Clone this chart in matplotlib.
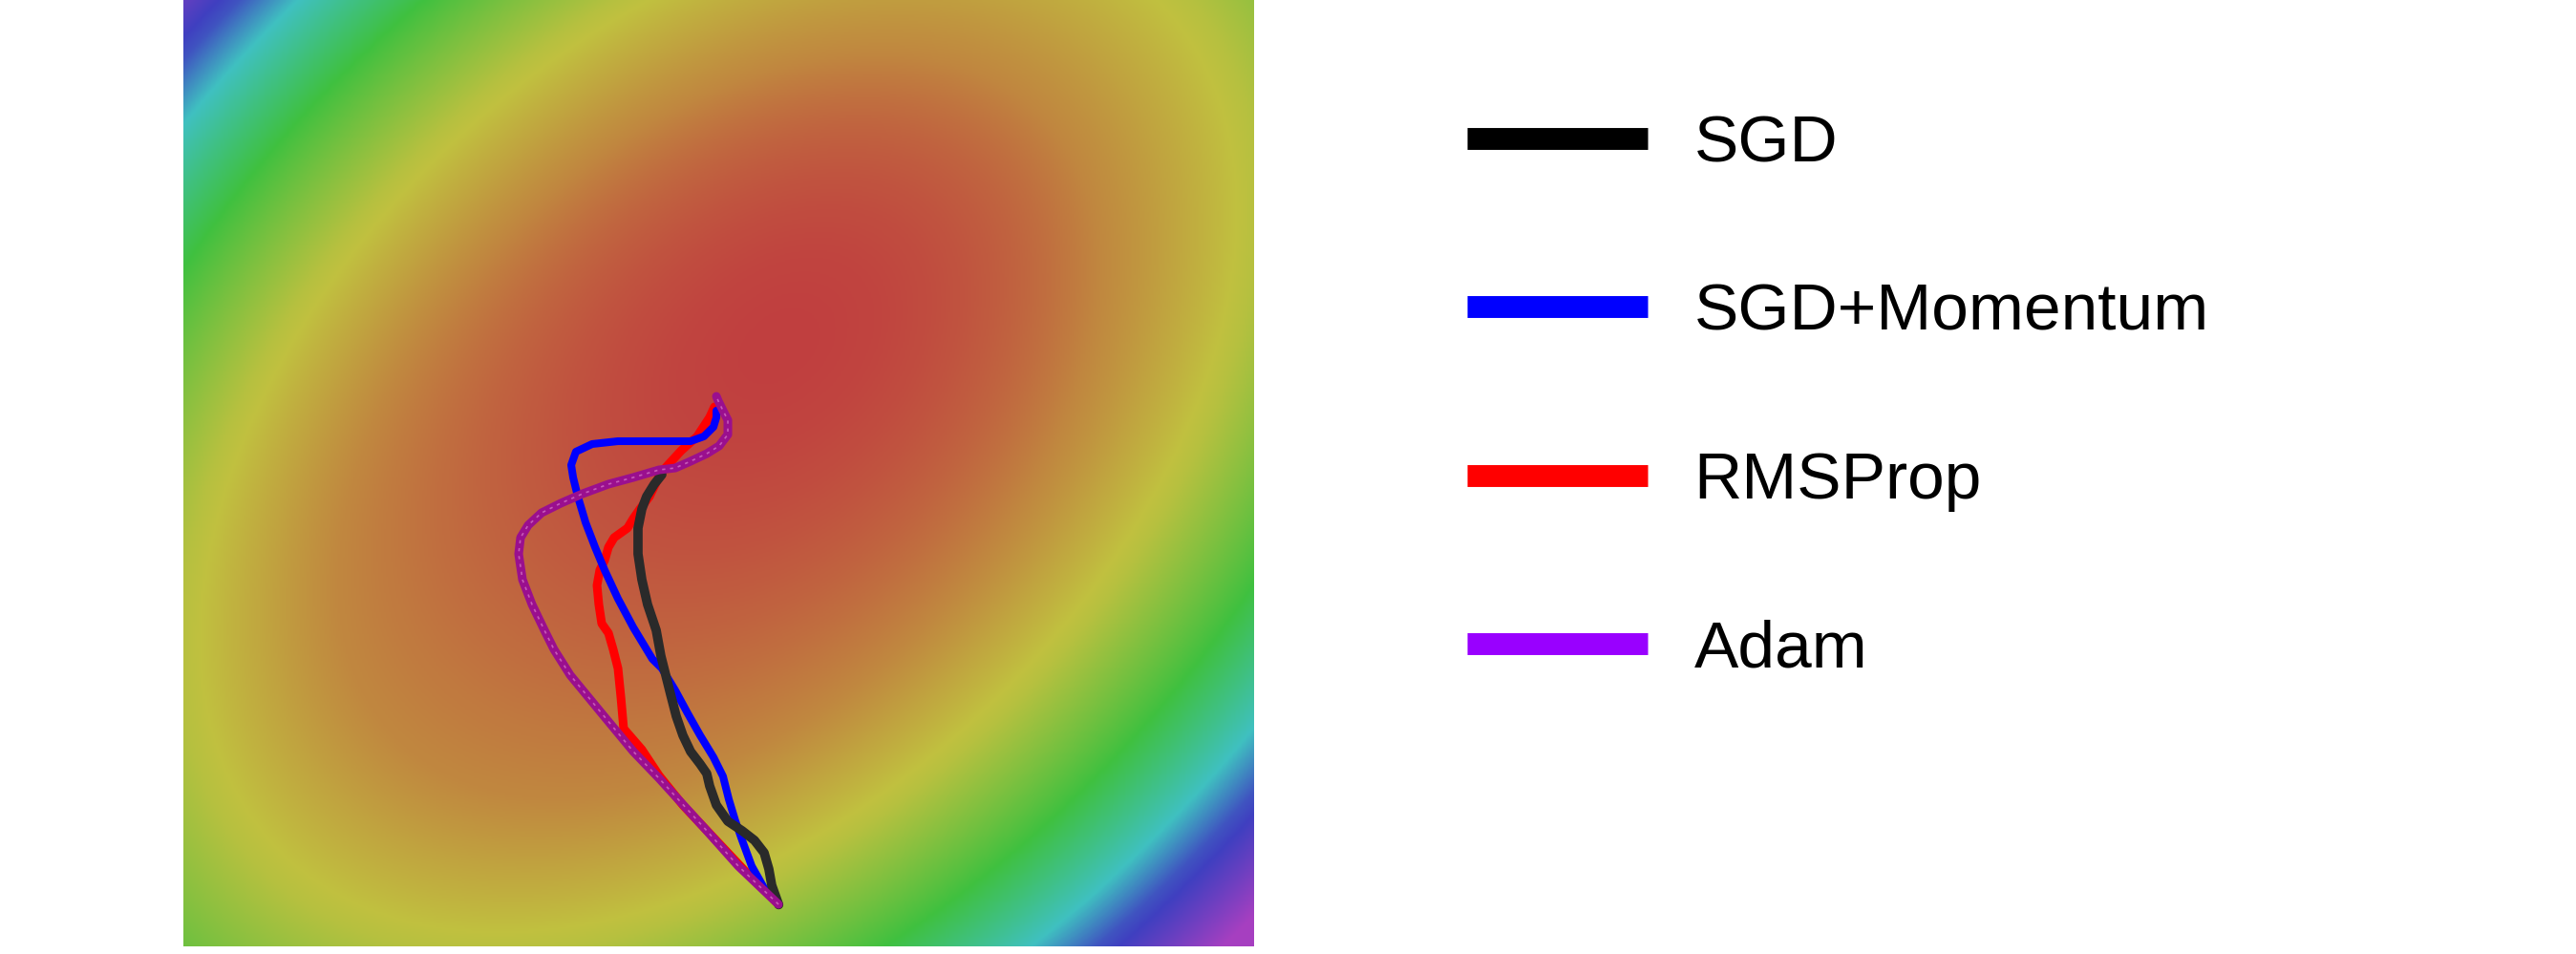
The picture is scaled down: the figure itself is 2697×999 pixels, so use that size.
import numpy as np
import matplotlib
matplotlib.use("Agg")
import matplotlib.pyplot as plt
from matplotlib.colors import ListedColormap, Normalize, hsv_to_rgb
from matplotlib.lines import Line2D

plt.rcParams['font.family'] = ['Liberation Sans', 'DejaVu Sans']

# ---- data: optimizer trajectories (parameter space, 0..10 on each axis) ----
labels = ["SGD", "SGD+Momentum", "RMSProp", "Adam"]
legend_colors = ["#000000", "#0000ff", "#ff0000", "#9900ff"]

sgd_x = [5.56, 5.495, 5.468, 5.424, 5.334, 5.219, 5.085, 4.978, 4.915, 4.888, 4.826,
         4.737, 4.665, 4.603, 4.550, 4.505, 4.460, 4.416, 4.335, 4.282, 4.246, 4.246,
         4.282, 4.326, 4.398, 4.469]
sgd_y = [0.44, 0.646, 0.817, 0.989, 1.120, 1.221, 1.322, 1.493, 1.695, 1.826, 1.927,
         2.059, 2.230, 2.432, 2.664, 2.866, 3.068, 3.340, 3.613, 3.875, 4.147, 4.420,
         4.622, 4.753, 4.884, 4.985]

mom_x = [5.558, 5.424, 5.308, 5.219, 5.156, 5.094, 5.040, 4.951, 4.826, 4.710, 4.594,
         4.469, 4.380, 4.202, 4.059, 3.934, 3.845, 3.756, 3.684, 3.640, 3.622, 3.666,
         3.818, 4.059, 4.291, 4.532, 4.737, 4.862, 4.951, 4.978, 4.978]
mom_y = [0.444, 0.616, 0.848, 1.120, 1.322, 1.554, 1.796, 1.998, 2.230, 2.462, 2.704,
         2.937, 3.037, 3.370, 3.673, 3.976, 4.218, 4.480, 4.753, 4.955, 5.086, 5.227,
         5.308, 5.338, 5.338, 5.338, 5.338, 5.389, 5.489, 5.590, 5.661]

rms_x = [5.558, 5.245, 4.933, 4.665, 4.442, 4.282, 4.112, 4.086, 4.059, 4.014, 3.970,
         3.907, 3.880, 3.863, 3.889, 3.934, 3.970, 4.023, 4.148, 4.202, 4.264, 4.353,
         4.460, 4.648, 4.799, 4.915, 4.960]
rms_y = [0.444, 0.797, 1.171, 1.493, 1.806, 2.079, 2.301, 2.634, 2.937, 3.138, 3.310,
         3.411, 3.613, 3.814, 3.976, 4.077, 4.218, 4.319, 4.420, 4.521, 4.622, 4.753,
         5.005, 5.237, 5.389, 5.590, 5.701]

adam_x = [5.558, 5.183, 4.889, 4.621, 4.442, 4.202, 3.907, 3.613, 3.461, 3.372, 3.256,
          3.167, 3.131, 3.149, 3.220, 3.345, 3.524, 3.729, 3.970, 4.202, 4.442, 4.594,
          4.737, 4.889, 5.004, 5.085, 5.085, 5.040, 4.996, 4.978]
adam_y = [0.444, 0.848, 1.221, 1.554, 1.776, 2.059, 2.462, 2.866, 3.138, 3.340, 3.613,
          3.875, 4.147, 4.319, 4.450, 4.581, 4.682, 4.783, 4.884, 4.955, 5.035, 5.055,
          5.126, 5.207, 5.288, 5.409, 5.560, 5.661, 5.762, 5.812]

# ---- loss surface (tilted bowl; inner basin shifted up-right) ----
outer_center = (5.0, 5.5)
inner_center = (5.6, 6.4)
curv_a, curv_b, curv_h = 1.15, 0.94, -0.44
loss_max = 0.77
# colour levels of the loss: loss value -> hue
level_loss = [0.0, 0.066, 0.116, 0.169, 0.24, 0.385, 0.525, 0.60, 0.77]
level_hue = [0.0, 0.05, 0.09, 0.13, 0.18, 0.33, 0.50, 0.64, 0.80]


def bowl(X, Y, c):
    dx = (X - c[0]) / 10.0
    dy = (Y - c[1]) / 10.0
    return curv_a * dx ** 2 + curv_b * dy ** 2 + 2 * curv_h * dx * dy


# ---- figure ----
W, H, DPI = 2697, 999, 100
fig = plt.figure(figsize=(W / DPI, H / DPI), dpi=DPI)
fig.patch.set_facecolor("white")

ax = fig.add_axes([192 / W, 8 / H, 1121 / W, 991 / H])

g = np.linspace(0, 10, 700)
X, Y = np.meshgrid(g, g)
q_out = bowl(X, Y, outer_center)
w = np.clip(q_out / 0.12, 0, 1)
cx = inner_center[0] * (1 - w) + outer_center[0] * w
cy = inner_center[1] * (1 - w) + outer_center[1] * w
Z = bowl(X, Y, (cx, cy))

t = np.linspace(0, 1, 512)
hues = np.interp(t * loss_max, level_loss, level_hue)
hsv = np.stack([hues, np.full_like(hues, 0.67), np.full_like(hues, 0.755)], axis=1)
cmap = ListedColormap(hsv_to_rgb(hsv))
ax.imshow(Z, extent=[0, 10, 0, 10], origin="lower", aspect="auto", cmap=cmap,
          norm=Normalize(vmin=0, vmax=loss_max, clip=True),
          interpolation="bilinear")

ax.plot(rms_x, rms_y, color="#ff0000", lw=6.5, solid_capstyle="round",
        solid_joinstyle="round", zorder=3)
ax.plot(mom_x, mom_y, color="#0000ff", lw=5.8, solid_capstyle="round",
        solid_joinstyle="round", zorder=4)
ax.plot(sgd_x, sgd_y, color="#2a2a2a", lw=7.0, solid_capstyle="round",
        solid_joinstyle="round", zorder=5)
ax.plot(adam_x, adam_y, color="#9a0f8e", lw=6.5, solid_capstyle="round",
        solid_joinstyle="round", zorder=6)
ax.plot(adam_x, adam_y, color="#c65ab8", lw=1.2, ls=(0, (2, 3)), zorder=7)

ax.set_xlim(0, 10)
ax.set_ylim(0, 10)
ax.axis("off")

handles = [Line2D([0], [0], color=c, lw=16.5, solid_capstyle="butt") for c in legend_colors]
fig.legend(handles, labels, loc="upper left",
           bbox_to_anchor=(1536 / W, 1 - 119 / H), frameon=False,
           fontsize=50, handlelength=2.72, handletextpad=0.7,
           labelspacing=1.62, borderpad=0, borderaxespad=0)

fig.savefig("out.png", dpi=DPI)
